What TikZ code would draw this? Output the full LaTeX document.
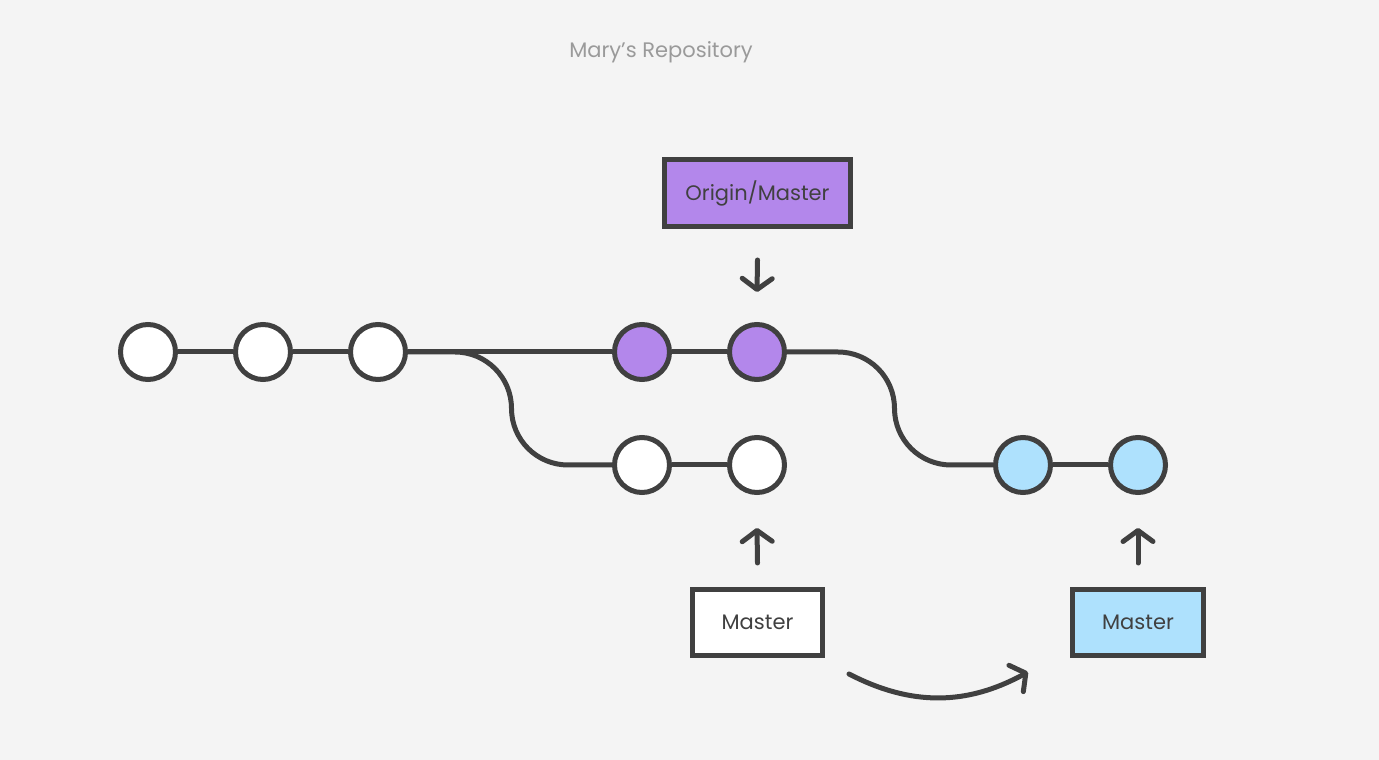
\documentclass[tikz,border=0pt]{standalone}
\usepackage{fontspec}
\setmainfont{Poppins}
\usetikzlibrary{
  arrows.meta,positioning
}
\definecolor{ink}{HTML}{404040}
\definecolor{paper}{HTML}{F4F4F4}
\definecolor{lilac}{HTML}{B387EB}
\definecolor{sky}{HTML}{AEE1FD}
\definecolor{caption}{HTML}{9A9A9A}

\begin{document}
\begin{tikzpicture}[x=1pt,y=1pt,
  commit/.style={circle,draw=ink,line width=5pt,minimum size=55pt,inner sep=0pt,fill=white},
  branch/.style={draw=ink,line width=5pt,inner sep=0pt,text=ink,font=\fontsize{21}{24}\selectfont},
  link/.style={draw=ink,line width=5pt},
  ptr/.style={draw=ink,line width=5pt,line cap=round,-{Straight Barb[round,length=11pt,width=30pt]}}
]

\fill[paper] (0,0) rectangle (1379,760);
\useasboundingbox (0,0) rectangle (1379,760);

\node[text=caption,font=\fontsize{21}{24}\selectfont] (title) at (661,708) {Mary’s Repository};

% commits
\node[commit] (c1) at (148,408) {};
\node[commit] (c2) at (263,408) {};
\node[commit] (c3) at (378,408) {};
\node[commit,fill=lilac] (p1) at (642,408) {};
\node[commit,fill=lilac] (p2) at (757,408) {};
\node[commit] (b1) at (642,295) {};
\node[commit] (b2) at (757,295) {};
\node[commit,fill=sky] (l1) at (1023,295) {};
\node[commit,fill=sky] (l2) at (1138,295) {};

% branch labels
\node[branch,fill=lilac,minimum width=186pt,minimum height=67pt] (om) at (757.5,567) {Origin/Master};
\node[branch,fill=white,minimum width=130pt,minimum height=66pt] (mst) at (757.5,137.5) {Master};
\node[branch,fill=sky,minimum width=131pt,minimum height=66pt] (lmst) at (1138,137.5) {Master};

% history
\draw[link] (c1) -- (c2);
\draw[link] (c2) -- (c3);
\draw[link] (c3) -- (p1);
\draw[link] (p1) -- (p2);
\draw[link] (b1) -- (b2);
\draw[link] (l1) -- (l2);
\draw[link] (c3.east) -- (455,408) arc[start angle=90,end angle=0,radius=56.5]
  arc[start angle=180,end angle=270,radius=56.5] -- (b1.west);
\draw[link] (p2.east) -- (838,408) arc[start angle=90,end angle=0,radius=56.5]
  arc[start angle=180,end angle=270,radius=56.5] -- (l1.west);

% pointers
\draw[ptr] ([yshift=-31pt]om.south) -- ([yshift=30pt]p2.north);
\draw[ptr] ([yshift=24pt]mst.north) -- ([yshift=-33pt]b2.south);
\draw[ptr] ([yshift=24pt]lmst.north) -- ([yshift=-33pt]l2.south);

\coordinate (from) at (849,86);
\coordinate (to) at (1028,88);
\draw[ptr] (from) to[bend right=28] (to);
\end{tikzpicture}
\end{document}
